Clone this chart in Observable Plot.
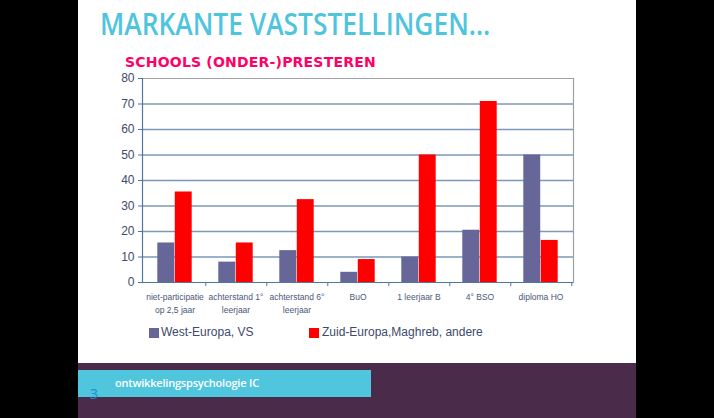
<!DOCTYPE html>
<html>
<head>
<meta charset="utf-8">
<script src="https://cdn.jsdelivr.net/npm/d3@7"></script>
<script src="https://cdn.jsdelivr.net/npm/@observablehq/plot@0.6"></script>
<style>
  html, body { margin: 0; padding: 0; background: #000; }
  #stage { position: relative; width: 714px; height: 418px; background: #000; overflow: hidden; }
  #slide { position: absolute; left: 78px; top: 0; width: 558px; height: 363px; background: #fff; }
  #band { position: absolute; left: 78px; top: 363px; width: 558px; height: 55px; background: #4a2b4a; }
  #box { position: absolute; left: 78px; top: 370px; width: 293px; height: 27px; background: #4fc5de; }
  #boxtext { position: absolute; left: 115px; top: 376px; font: 600 11px "Open Sans", sans-serif; color: #fff; line-height: 14px; letter-spacing: -0.2px; }
  #pagenum { position: absolute; left: 90px; top: 386px; font: 14px "Open Sans", sans-serif; color: #1e8fd0; line-height: 16px; }
  #title { position: absolute; left: 100px; top: 7px; font: 600 30px "Open Sans", sans-serif; color: #4ec5dd; line-height: 34px; white-space: nowrap; transform: scaleX(0.878); transform-origin: 0 0; }
  #subtitle { position: absolute; left: 125px; top: 55px; font: bold 14px "DejaVu Sans", sans-serif; color: #ff0066; line-height: 14px; white-space: nowrap; letter-spacing: 0.2px; }
  #chart { position: absolute; left: 0; top: 0; }
  .leg { position: absolute; top: 325px; font: 12px "Liberation Sans", Arial, sans-serif; color: #3d4a6b; line-height: 14px; white-space: nowrap; }
  .sw { position: absolute; top: 328px; width: 9.5px; height: 9.5px; }
</style>
</head>
<body>
<div id="stage">
  <div id="slide"></div>
  <div id="title">MARKANTE VASTSTELLINGEN…</div>
  <div id="subtitle">SCHOOLS (ONDER-)PRESTEREN</div>
  <div id="chart"></div>
  <div class="sw" id="sw1"></div><div class="leg" id="leg1"></div>
  <div class="sw" id="sw2"></div><div class="leg" id="leg2"></div>
  <div id="band"></div>
  <div id="box"></div>
  <div id="boxtext">ontwikkelingspsychologie IC</div>
  <div id="pagenum">3</div>
</div>
<script>
const categories = ["niet-participatie op 2,5 jaar", "achterstand 1° leerjaar", "achterstand 6° leerjaar", "BuO", "1 leerjaar B", "4° BSO", "diploma HO"];
const categoryLabels = ["niet-participatie\nop 2,5 jaar", "achterstand 1°\nleerjaar", "achterstand 6°\nleerjaar", "BuO", "1 leerjaar B", "4° BSO", "diploma HO"];
const seriesNames = ["West-Europa, VS", "Zuid-Europa,Maghreb, andere"];
const westEuropa = [15.5, 8, 12.5, 4, 10, 20.5, 50];
const zuidEuropa = [35.5, 15.5, 32.5, 9, 50, 71, 16.5];
const yTicks = [0, 10, 20, 30, 40, 50, 60, 70, 80];
const colors = ["#666699", "#ff0000"];

const westData = categories.map((c, i) => ({category: c, value: westEuropa[i]}));
const zuidData = categories.map((c, i) => ({category: c, value: zuidEuropa[i]}));
const labelOf = new Map(categories.map((c, i) => [c, categoryLabels[i]]));

const W = 714, H = 320, mL = 142, mR = 141, mT = 78, mB = 38;
const band = (W - mL - mR) / categories.length;
const half = band / 2;
const outer = band * 0.216;

const plot = Plot.plot({
  width: W, height: H,
  marginLeft: mL, marginRight: mR, marginTop: mT, marginBottom: mB,
  style: {background: "transparent", overflow: "visible"},
  x: {domain: categories, padding: 0},
  y: {domain: [0, 80]},
  marks: [
    Plot.gridY(yTicks.filter(t => t > 0 && t < 80), {stroke: "#7b98b8", strokeOpacity: 1, strokeWidth: 1.4}),
    Plot.ruleY([80], {stroke: "#a0a0a0", strokeWidth: 1.2}),
    Plot.frame({anchor: "right", stroke: "#a0a0a0", strokeWidth: 1.2}),
    Plot.barY(westData, {x: "category", y: "value", fill: colors[0], insetLeft: outer, insetRight: half}),
    Plot.barY(zuidData, {x: "category", y: "value", fill: colors[1], insetLeft: half, insetRight: outer}),
    Plot.frame({anchor: "left", stroke: "#4f76a0", strokeWidth: 1.2}),
    Plot.ruleY([0], {stroke: "#4f76a0", strokeWidth: 1.2}),
    Plot.ruleX(categories, {x: d => d, dx: half, y1: 0, y2: -1.6, stroke: "#4f76a0", strokeWidth: 1}),
    Plot.axisY(yTicks, {tickSize: 4, tickPadding: 4, stroke: "#4f76a0", fill: "#3d4a6b", fontSize: 12, fontFamily: "Liberation Sans, Arial, sans-serif", label: null}),
    Plot.axisX({tickSize: 0, tickPadding: 9, tickFormat: d => labelOf.get(d), fill: "#4a5878", fontSize: 8.5, lineHeight: 1.45, fontFamily: "Liberation Sans Narrow, Liberation Sans, Arial, sans-serif", label: null})
  ]
});
document.getElementById("chart").appendChild(plot);

const sw1 = document.getElementById("sw1"), sw2 = document.getElementById("sw2");
sw1.style.left = "149px"; sw1.style.background = colors[0];
sw2.style.left = "309px"; sw2.style.background = colors[1];
const l1 = document.getElementById("leg1"), l2 = document.getElementById("leg2");
l1.textContent = seriesNames[0]; l1.style.left = "161px";
l2.textContent = seriesNames[1]; l2.style.left = "322px";
</script>
</body>
</html>
